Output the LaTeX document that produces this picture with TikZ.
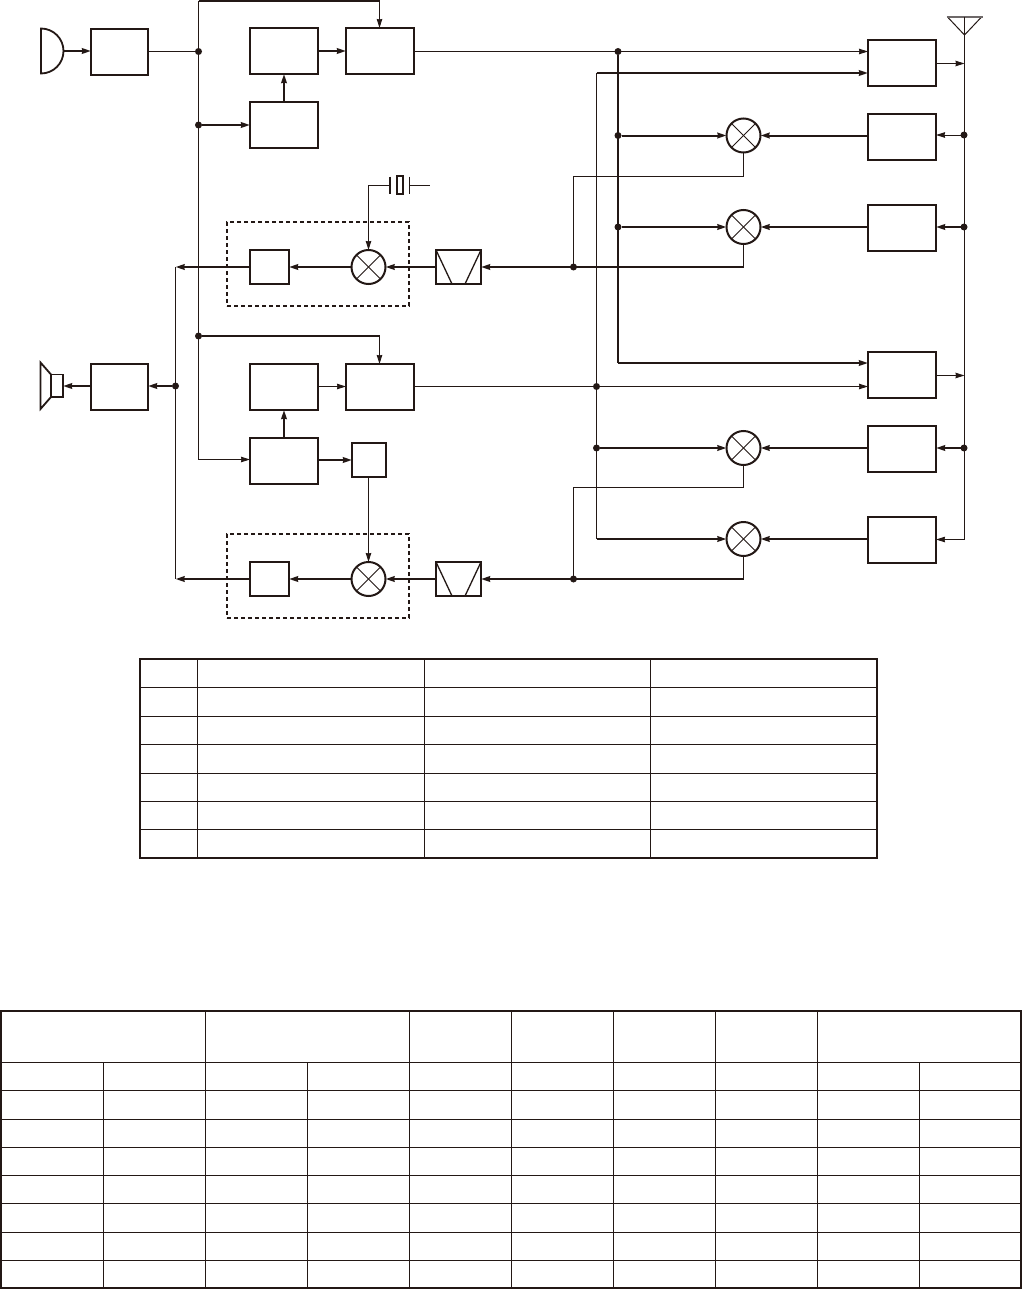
\documentclass[tikz,border=0pt]{standalone}
\usepackage{tikz}
\usetikzlibrary{arrows.meta}
\definecolor{figK}{RGB}{35,24,21}
\definecolor{figA}{RGB}{110,105,105}
\tikzset{
  wire/.style={figK,line width=1pt},
  wireB/.style={figK,line width=2pt},
  box/.style={draw=figK,line width=2pt,fill=white,inner sep=0pt,outer sep=0pt},
  bigbox/.style={box,minimum width=68pt,minimum height=46pt},
  ampbox/.style={box,minimum width=57pt,minimum height=46pt},
  smallbox/.style={box,minimum width=39pt,minimum height=34pt},
  lobox/.style={box,minimum width=34pt,minimum height=34pt},
  filterbox/.style={box,minimum width=45pt,minimum height=34pt,path picture={
    \draw[wire,line width=1.3pt] (path picture bounding box.north west)--([xshift=16pt]path picture bounding box.south west);
    \draw[wire,line width=1.3pt] (path picture bounding box.north east)--([xshift=-16pt]path picture bounding box.south east);}},
  mixer/.style={circle,draw=figK,line width=2pt,fill=white,inner sep=0pt,outer sep=0pt,minimum size=34pt,path picture={
    \draw[wire] (path picture bounding box.north west)--(path picture bounding box.south east);
    \draw[wire] (path picture bounding box.north east)--(path picture bounding box.south west);}},
  dashbox/.style={draw=figK,line width=1.5pt,dash pattern=on 4pt off 3pt,inner sep=0pt,outer sep=0pt,minimum width=182pt,minimum height=84pt},
  dot/.style={circle,fill=figK,inner sep=0pt,outer sep=0pt,minimum size=7pt},
  frame/.style={figK,line width=2.2pt},
  rule/.style={figK,line width=1pt}
}
\begin{document}
\begin{tikzpicture}[x=1pt,y=-1pt,>={Stealth[length=9pt,width=5.5pt,inset=0.5pt]}]
\useasboundingbox (0,0) rectangle (1022,1290);

% group boxes first, everything else on top
\node[dashbox] (grpA) at (318,264) {};
\node[dashbox] (grpB) at (318,576) {};

% upper half, left
\node[ampbox] (micAmp) at (119.5,52) {};
\node[bigbox] (compA) at (284,51) {};
\node[bigbox] (modA) at (380,51) {};
\node[bigbox] (ctcA) at (284,125) {};
\node[smallbox] (afA) at (269.5,267) {};
\node[mixer] (mixA) at (368.5,267) {};
\node[filterbox] (filtA) at (458.5,267) {};
\node[box,minimum width=6pt,minimum height=18pt] (xtal) at (400,185) {};

% lower half, left
\node[ampbox] (spkAmp) at (119.5,387) {};
\node[bigbox] (compB) at (284,387) {};
\node[bigbox] (modB) at (380,387) {};
\node[bigbox] (ctcB) at (284,461) {};
\node[lobox] (loB) at (369,460) {};
\node[smallbox] (afB) at (269.5,579) {};
\node[mixer] (mixB) at (368.5,579) {};
\node[filterbox] (filtB) at (458.5,579) {};

% right column
\node[bigbox] (txA) at (902,63) {};
\node[bigbox] (rxA) at (902,137) {};
\node[bigbox] (rxB) at (902,228) {};
\node[bigbox] (txB) at (902,375) {};
\node[bigbox] (rxC) at (902,449) {};
\node[bigbox] (rxD) at (902,540) {};
\node[mixer] (mixC) at (743.5,135.5) {};
\node[mixer] (mixD) at (743.5,227) {};
\node[mixer] (mixE) at (743.5,448) {};
\node[mixer] (mixF) at (743.5,539) {};

% junctions
\node[dot] (jMic) at (198.5,51.5) {};
\node[dot] (jCtc) at (198.5,125) {};
\node[dot] (jLow) at (198.5,336) {};
\node[dot] (jSpk) at (175.5,386) {};
\node[dot] (jTx) at (618,51.5) {};
\node[dot] (jMixC) at (618,135.5) {};
\node[dot] (jMixD) at (618,227) {};
\node[dot] (jTxB) at (596.5,386.5) {};
\node[dot] (jMixE) at (596.5,448) {};
\node[dot] (jIfA) at (573.5,267) {};
\node[dot] (jIfB) at (573.5,579) {};
\node[dot] (jAntA) at (964,135) {};
\node[dot] (jAntB) at (964,227) {};
\node[dot] (jAntC) at (964,448) {};
\coordinate (busTop) at (198.5,1);
\coordinate (busEnd) at (198.5,459.5);
\coordinate (feedA) at (379.5,1);
\coordinate (feedB) at (379.5,336);
\coordinate (afEndA) at (175.5,267);
\coordinate (afEndB) at (175.5,579);
\coordinate (cornerA) at (596.5,73);
\coordinate (cornerB) at (618,363);
\coordinate (cornerF) at (596.5,539);
\coordinate (antTip) at (964.5,35);
\coordinate (antFoot) at (964.5,539.5);
\coordinate (antTapA) at (964.5,63.5);
\coordinate (antTapB) at (964.5,375.5);
\coordinate (xtalL) at (390,185.5);
\coordinate (xtalR) at (409.5,185.5);
\coordinate (xtalEnd) at (430,185.5);
\coordinate (micEar) at (63,51);
\coordinate (spkEar) at (63,386);

% microphone
\draw[wireB,line width=1.8pt] (41,28.5) -- (41,73.5) arc (-90:90:22.5 and -22.5) -- cycle;
% speaker
\draw[wireB,line width=1.8pt] (51,374.5) rectangle (63,397);
\draw[wireB,line width=1.8pt] (51,374.5) -- (40.5,362.5) -- (40.5,409) -- (51,397);
% antenna
\draw[wire] (947.5,17) -- (964.5,35) -- (981.5,17);
\draw[figA,line width=2pt] (946.5,17) -- (982.5,17);
\draw[wire] (964.5,17) -- (antTip);
% crystal
\draw[wireB,line width=1.6pt] (390,176.5) -- (390,194) (409.5,176.5) -- (409.5,194);

% bus lines
\draw[wire] (micAmp.east |- jMic) -- (jMic);
\draw[wire] (busTop) -- (busEnd);
\draw[wire,->] (busEnd) -- (busEnd -| ctcB.west);
\draw[wireB] (busTop) -- (feedA);
\draw[wire,->] (feedA) -- (feedA |- modA.north);
\draw[wireB,->] (jCtc) -- (jCtc -| ctcA.west);
\draw[wireB] (jLow) -- (feedB);
\draw[wire,->] (feedB) -- (feedB |- modB.north);
\draw[wire] (afEndA) -- (afEndB);

% upper modulator chain
\draw[wireB,->] (compA) -- (modA);
\draw[wireB,->] (ctcA) -- (compA);
\draw[wire,->] (modA.east |- jTx) -- (jTx -| txA.west);
\draw[wireB] (jTx) -- (cornerB);
\draw[wireB,->] (cornerB) -- (cornerB -| txB.west);
\draw[wire] (cornerA) -- (cornerF);
\draw[wireB,->] (cornerA) -- (cornerA -| txA.west);
\draw[wireB,->] (jMixC) -- (mixC);
\draw[wireB,->] (jMixD) -- (mixD);
\draw[wireB,->] (jMixE) -- (mixE);
\draw[wireB,->] (cornerF) -- (mixF);

% lower modulator chain
\draw[wire,->] (compB.east |- jTxB) -- (modB.west |- jTxB);
\draw[wireB,->] (ctcB) -- (compB);
\draw[wireB,->] (loB -| ctcB.east) -- (loB.west);
\draw[wire,->] (modB.east |- jTxB) -- (jTxB -| txB.west);

% receivers to mixers
\draw[wireB,->] (rxA.west |- mixC) -- (mixC);
\draw[wireB,->] (rxB.west |- mixD) -- (mixD);
\draw[wireB,->] (rxC.west |- mixE) -- (mixE);
\draw[wireB,->] (rxD.west |- mixF) -- (mixF);

% antenna column
\draw[wire] (antTip) -- (antFoot);
\draw[wire,->] (antFoot) -- (antFoot -| rxD.east);
\draw[wire,->] (txA.east |- antTapA) -- (antTapA);
\draw[wire,->] (txB.east |- antTapB) -- (antTapB);
\draw[wire,->] (jAntA) -- (jAntA -| rxA.east);
\draw[wireB,->] (jAntB) -- (jAntB -| rxB.east);
\draw[wireB,->] (jAntC) -- (jAntC -| rxC.east);

% IF lines
\draw[wire] (mixC.south) |- (573.5,176.5) -- (jIfA);
\draw[wire] (mixD.south) -- (mixD |- jIfA);
\draw[wireB,->] (mixD |- jIfA) -- (filtA.east);
\draw[wire] (mixE.south) |- (573.5,487.5) -- (jIfB);
\draw[wire] (mixF.south) -- (mixF |- jIfB);
\draw[wireB,->] (mixF |- jIfB) -- (filtB.east);

% receive chains
\draw[wireB,->] (filtA) -- (mixA);
\draw[wireB,->] (mixA) -- (afA);
\draw[wireB,->] (afA) -- (afEndA);
\draw[wireB,->] (filtB) -- (mixB);
\draw[wireB,->] (mixB) -- (afB);
\draw[wireB,->] (afB) -- (afEndB);
\draw[wire,->] (xtalL) -| (mixA.north);
\draw[wire] (xtalR) -- (xtalEnd);
\draw[wire,->] (mixB |- loB.south) -- (mixB.north);

% audio
\draw[wireB,->] (micEar) -- (micEar -| micAmp.west);
\draw[wireB,->] (jSpk) -- (jSpk -| spkAmp.east);
\draw[wireB,->] (spkAmp.west |- spkEar) -- (spkEar);

% first table
\foreach \y in {687.5,716.5,744.5,773.5,801.5,829.5} \draw[rule] (140,\y) -- (877,\y);
\foreach \x in {197.5,424.5,650.5} \draw[rule] (\x,659) -- (\x,858);
\draw[frame] (140,659) rectangle (877,858);

% second table
\foreach \y in {1062.5,1090.5,1119.5,1147.5,1175.5,1203.5,1232.5,1260.5} \draw[rule] (1,\y) -- (1021,\y);
\foreach \x in {205.5,409.5,511.5,613.5,715.5,817.5} \draw[rule] (\x,1011) -- (\x,1288);
\foreach \x in {103.5,307.5,919.5} \draw[rule] (\x,1062.5) -- (\x,1288);
\draw[frame] (1,1011) rectangle (1021,1288);
\end{tikzpicture}
\end{document}
